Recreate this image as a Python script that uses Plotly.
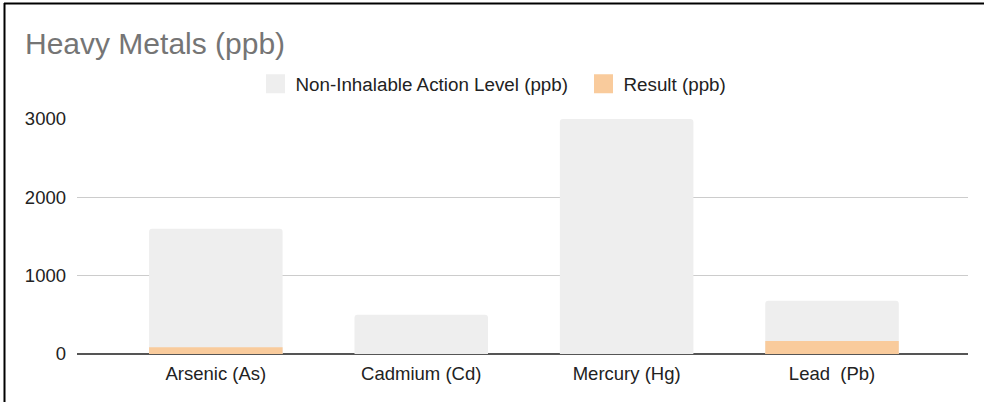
import plotly.graph_objects as go

categories = ["Arsenic (As)", "Cadmium (Cd)", "Mercury (Hg)", "Lead  (Pb)"]
action_level = [1600, 500, 3000, 680]
result = [86, 0, 0, 166]
y_ticks = [0, 1000, 2000, 3000]

FONT = "Liberation Sans, Arial, sans-serif"
GRAY_BAR = "#eeeeee"
ORANGE = "#f9cb9c"

W, H = 984, 402
L, R, T, B = 77, 16, 119, 48
pw, ph = W - L - R, H - T - B

def px_x(x):
    return (x - L) / pw

def px_y(y):
    return (H - B - y) / ph

fig = go.Figure()
fig.add_trace(go.Bar(x=categories, y=action_level, name="Non-Inhalable Action Level (ppb)",
                     marker=dict(color=GRAY_BAR, cornerradius=3, line=dict(width=0)),
                     width=0.65, showlegend=False, hoverinfo="x+y"))
fig.add_trace(go.Bar(x=categories, y=result, name="Result (ppb)",
                     marker=dict(color=ORANGE, line=dict(width=0)),
                     width=0.65, showlegend=False, hoverinfo="x+y"))
# legend entries with larger square swatches
for name, col in [("Non-Inhalable Action Level (ppb)", GRAY_BAR), ("Result (ppb)", ORANGE)]:
    fig.add_trace(go.Scatter(x=[None], y=[None], mode="markers", name=name,
                             marker=dict(symbol="square", size=16, color=col,
                                         line=dict(color=col, width=3))))

fig.update_layout(
    width=W, height=H,
    margin=dict(l=L, r=R, t=T, b=B, pad=0, autoexpand=False),
    barmode="overlay",
    paper_bgcolor="white", plot_bgcolor="white",
    font=dict(family=FONT, size=18.5, color="#222222"),
    title=dict(text="Heavy Metals (ppb)", x=25 / W, xanchor="left", xref="container",
               y=1 - 43 / H, yanchor="middle", yref="container",
               font=dict(family=FONT, size=30, color="#757575")),
    legend=dict(orientation="h", x=255.5 / W, xanchor="left", xref="container",
                y=1 - 84 / H, yanchor="middle", yref="container",
                font=dict(family=FONT, size=18.8, color="#222222"),
                bgcolor="rgba(0,0,0,0)", itemwidth=30, entrywidth=283,
                entrywidthmode="pixels"),
    xaxis=dict(type="category", range=[-0.676, 3.662], showgrid=False, showline=False,
               zeroline=False, ticks="", ticklabelstandoff=6, fixedrange=True,
               automargin=False),
    yaxis=dict(range=[0, 3000], tickvals=y_ticks, ticktext=[str(v) for v in y_ticks],
               showgrid=True, gridcolor="#cccccc", gridwidth=1,
               zeroline=True, zerolinecolor="#555555", zerolinewidth=2,
               showline=False, ticks="", ticklabelstandoff=10, fixedrange=True,
               automargin=False),
    showlegend=True,
    shapes=[
        dict(type="line", xref="paper", yref="paper", x0=px_x(4.5), x1=px_x(4.5),
             y0=px_y(3), y1=px_y(402), line=dict(color="black", width=2)),
        dict(type="line", xref="paper", yref="paper", x0=px_x(4), x1=px_x(984),
             y0=px_y(3.5), y1=px_y(3.5), line=dict(color="black", width=2)),
    ],
)

fig.write_html("out.html", config={"displayModeBar": False},
               post_script="document.body.style.margin='0';")
